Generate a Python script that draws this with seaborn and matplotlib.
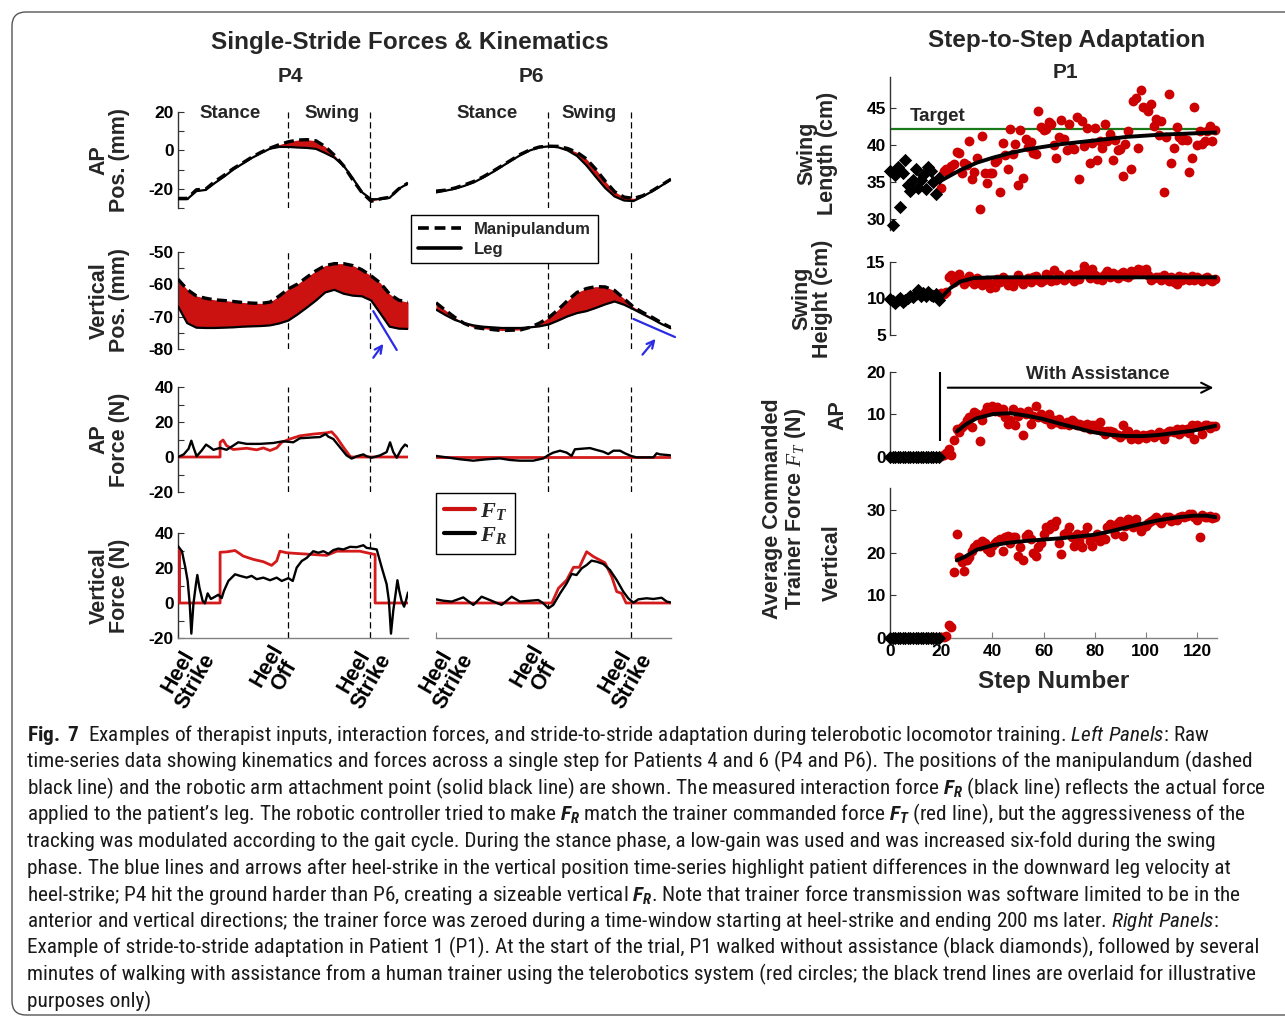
import matplotlib
matplotlib.use("Agg")
import matplotlib.pyplot as plt
import seaborn as sns
from matplotlib import font_manager
from matplotlib.lines import Line2D
from matplotlib.patches import FancyBboxPatch
from matplotlib.transforms import IdentityTransform, ScaledTranslation

# ---------------------------
# Left panels: single stride, % of stride on x
# ---------------------------
pos_t = [0, 4, 8, 12, 16, 20, 24, 28, 32, 36, 40, 44, 48, 52, 56, 60, 64, 68, 72, 76, 80, 84, 88, 92, 96, 100]
P4_HEEL_OFF, P4_HEEL_STRIKE = 47.8, 83.5
P6_HEEL_OFF, P6_HEEL_STRIKE = 47.7, 83.0

p4_ap_leg = [-25.4, -25.4, -21.2, -20.6, -17.0, -13.7, -10.0, -7.0, -4.0, -1.5, 0.9, 1.8, 1.8, 1.5, 1.3, 0.8,
             -1.4, -3.8, -8.0, -14.5, -21.8, -25.4, -25.4, -24.7, -20.0, -17.2]
p4_ap_manip = [-25.0, -25.0, -20.5, -20.2, -16.2, -13.0, -9.5, -6.6, -3.6, -1.0, 1.2, 3.0, 4.5, 5.4, 5.6, 5.0,
               2.0, -2.5, -8.0, -15.3, -22.0, -26.5, -25.2, -24.4, -20.0, -17.0]
p4_vp_manip = [-58.4, -61.6, -63.6, -64.3, -64.8, -65.0, -65.3, -65.6, -65.8, -65.9, -65.5, -63.6, -61.4, -59.9,
               -57.8, -55.8, -54.2, -53.6, -53.6, -54.2, -55.5, -57.4, -59.6, -63.0, -64.9, -65.5]
p4_vp_leg = [-66.8, -72.0, -73.4, -73.5, -73.5, -73.4, -73.3, -73.1, -73.0, -72.9, -72.7, -72.1, -71.2, -69.3,
             -67.2, -65.0, -62.5, -61.7, -62.9, -63.5, -63.7, -65.0, -69.0, -73.1, -73.7, -73.8]

p6_ap_leg = [-21.9, -21.0, -20.0, -18.5, -16.7, -14.2, -11.4, -8.4, -5.3, -2.4, 0.0, 1.6, 2.1, 1.6, 0.0, -2.9,
             -7.8, -13.8, -19.6, -24.0, -26.1, -26.4, -24.0, -21.3, -18.3, -15.2]
p6_ap_manip = [-21.2, -20.7, -19.6, -18.0, -16.2, -13.8, -11.0, -8.0, -5.0, -2.0, 0.3, 1.8, 2.2, 2.1, 1.0, -1.0,
               -4.4, -9.8, -16.0, -21.5, -24.3, -25.0, -23.6, -21.0, -18.0, -15.0]
p6_vp_manip = [-65.7, -68.0, -70.2, -72.1, -73.3, -73.7, -74.0, -74.3, -74.2, -74.1, -73.3, -72.0, -70.3, -67.8,
               -65.0, -62.5, -61.3, -60.7, -60.8, -61.9, -64.4, -67.0, -68.7, -70.2, -71.9, -73.4]
p6_vp_leg = [-67.8, -69.5, -71.0, -72.0, -72.7, -73.1, -73.3, -73.5, -73.5, -73.5, -73.3, -73.0, -72.4, -71.2,
             -69.9, -68.9, -68.3, -67.3, -66.2, -65.3, -66.3, -67.7, -69.2, -70.7, -72.3, -73.6]

# forces: trainer commanded F_T (red) and measured F_R (black)
p4_apf_t_x = [0, 18.3, 18.3, 19.6, 21.1, 24.0, 29.9, 34.2, 37.1, 40.0, 42.9, 45.1, 48.7, 53.0, 58.8, 64.6, 66.8,
              69.0, 71.9, 74.8, 75.5, 100]
p4_apf_t = [0, 0, 8.4, 9.7, 6.5, 4.3, 5.0, 4.1, 5.2, 3.7, 5.2, 8.4, 10.3, 12.1, 13.1, 13.8, 14.4, 11.2, 5.6, 0.4, 0, 0]
p4_apf_r_x = [0, 2.5, 4.6, 5.8, 6.7, 8.1, 10.3, 12.2, 13.9, 15.4, 18.3, 21.1, 24.0, 26.2, 29.9, 35.7, 41.4, 45.8,
              50.1, 53.0, 58.8, 61.7, 64.2, 65.4, 67.5, 70.4, 73.3, 75.5, 77.7, 80.6, 82.0, 84.2, 87.8, 90.7, 92.2,
              93.6, 95.1, 97.2, 98.7, 100]
p4_apf_r = [0, 1.5, 4.7, 9.3, 5.6, 0.4, 3.7, 7.1, 5.6, 4.1, 5.2, 4.1, 6.5, 8.4, 7.5, 7.5, 8.0, 9.0, 8.4, 10.7,
            11.2, 11.4, 13.1, 11.6, 10.3, 5.6, 0.9, -0.9, 0.4, 1.5, 0.4, -0.4, 0.9, 2.8, 8.4, 2.8, -0.4, 4.7, 7.1, 6.0]

p4_vf_t_x = [0, 0.7, 0.7, 18.3, 18.3, 21.1, 24.8, 28.4, 32.8, 37.1, 40.7, 42.9, 44.3, 47.2, 51.6, 58.8, 64.6,
             69.0, 73.3, 79.1, 83.5, 85.7, 85.7, 100]
p4_vf_t = [30.6, 30.6, 0, 0, 29.0, 29.2, 30.0, 26.8, 24.9, 23.6, 21.5, 24.0, 29.6, 28.7, 28.3, 27.7, 27.2, 29.6,
           29.6, 29.6, 28.3, 27.7, 0, 0]
p4_vf_r_x = [0, 1.7, 3.2, 4.2, 5.1, 5.8, 6.7, 7.8, 8.4, 9.3, 10.7, 11.7, 12.9, 14.3, 16.1, 17.5, 19.0, 20.0, 21.9,
             24.8, 27.0, 29.9, 32.0, 34.2, 37.1, 40.0, 42.9, 45.1, 48.0, 49.9, 51.6, 53.8, 56.0, 58.8, 61.0, 63.2,
             65.4, 67.5, 69.7, 71.9, 74.8, 77.7, 80.6, 82.0, 84.2, 86.4, 88.6, 90.7, 91.7, 92.6, 93.6, 94.6, 95.4,
             96.2, 97.2, 98.3, 99.1, 100]
p4_vf_r = [32.5, 29.6, 20.2, 12.6, -0.6, -17.5, -0.6, 10.8, 16.0, 8.9, 1.3, -0.2, 5.5, 2.3, 3.6, 4.7, 2.8, 7.0,
           12.6, 16.4, 15.5, 14.5, 15.5, 13.6, 14.5, 13.0, 14.5, 12.6, 14.2, 12.6, 20.2, 24.0, 25.8, 29.6, 28.7,
           29.6, 28.1, 30.2, 31.1, 30.6, 32.1, 31.9, 33.0, 31.5, 31.1, 30.6, 20.2, 10.8, 1.3, -17.5, -4.3, 5.1,
           13.0, 7.0, 1.3, -2.1, 1.3, 6.0]

p6_apf_t_x = [0, 100]
p6_apf_t = [0, 0]
p6_apf_r_x = [0, 4.5, 10.2, 15.9, 21.6, 27.2, 31.5, 35.7, 41.4, 45.7, 47.8, 49.9, 52.8, 55.6, 57.7, 59.1, 62.7,
              65.5, 68.4, 71.2, 73.3, 75.5, 78.3, 80.4, 83.0, 85.4, 89.6, 92.5, 93.9, 95.3, 99.6]
p6_apf_r = [0.6, -0.2, -1.3, -2.1, -1.3, -0.8, -1.7, -2.1, -2.1, -0.8, 1.1, 2.5, 3.6, 2.5, 0.6, 4.4, 4.8, 5.1,
            4.0, 3.0, 1.7, 3.6, 3.6, 2.1, 0.6, -0.2, -0.2, -0.2, 2.1, 1.5, 1.0]

p6_vf_t_x = [0, 49.3, 52.1, 55.6, 58.5, 61.0, 64.1, 67.0, 71.9, 74.8, 76.9, 79.0, 80.9, 100]
p6_vf_t = [0, 0, 8.4, 13.1, 20.4, 20.4, 29.3, 26.5, 23.0, 15.0, 6.5, 5.5, 0, 0]
p6_vf_r_x = [0, 3.1, 6.7, 11.6, 15.9, 19.4, 22.9, 27.9, 32.2, 35.7, 40.0, 43.5, 45.7, 47.8, 49.9, 52.8, 55.6,
             57.7, 59.8, 62.0, 64.1, 66.2, 68.4, 71.2, 74.0, 76.9, 79.7, 81.8, 84.0, 86.1, 89.6, 92.5, 96.0, 98.2, 99.6]
p6_vf_r = [2.1, 1.3, 0.8, 3.2, -1.1, 3.6, 1.7, -1.1, 3.6, 0.8, 1.3, 1.7, -0.2, -3.0, -1.1, 5.5, 11.2, 16.6, 16.0,
           19.8, 21.7, 24.2, 23.6, 22.3, 18.9, 13.1, 6.5, 2.7, 0.2, 2.1, 2.7, 2.3, 3.0, 0.8, 0.4]

# ---------------------------
# Right panels: step-to-step adaptation of P1
# ---------------------------
pre_steps = list(range(0, 20))          # walking without assistance
ASSIST_START = 19.6
TARGET_LENGTH = 42.2

pre_len = [36.5, 29.2, 36.0, 37.0, 31.6, 36.2, 38.0, 34.6, 33.8, 35.3, 36.8, 34.2, 35.2, 36.0, 34.0, 37.0, 36.5,
           35.0, 33.4, 35.5]
pre_height = [9.9, 9.6, 9.4, 9.8, 10.0, 9.5, 9.8, 10.1, 10.3, 10.2, 10.6, 11.2, 10.3, 10.7, 10.4, 10.9, 10.5,
              10.3, 10.6, 9.8]
pre_ap = [0, 0, 0, 0, 0, 0, 0, 0, 0, 0, 0, 0, 0, 0, 0, 0, 0, 0, 0, 0]
pre_vert = [0, 0, 0, 0, 0, 0, 0, 0, 0, 0, 0, 0, 0, 0, 0, 0, 0, 0, 0, 0]

assist_len = [34.2, 36.5, 36.8, 36.8, 37.1, 37.4, 39.1, 38.9, 36.2, 37.6,
              37.3, 40.6, 35.4, 36.4, 38.2, 31.3, 41.2, 36.2, 34.8, 36.2,
              36.2, 37.7, 38.0, 33.7, 40.3, 38.6, 36.7, 42.2, 38.8, 40.1,
              34.6, 42.0, 35.5, 40.8, 39.7, 40.4, 38.9, 38.8, 44.6, 42.4,
              42.0, 42.1, 43.1, 42.9, 40.0, 38.2, 41.1, 43.4, 40.8, 39.3,
              42.9, 39.6, 39.5, 43.8, 35.4, 43.3, 39.8, 42.3, 37.6, 40.3,
              42.3, 38.0, 40.6, 39.6, 42.8, 40.6, 41.5, 38.0, 40.7, 39.3,
              39.5, 35.8, 40.1, 41.9, 36.8, 45.9, 46.3, 39.6, 47.5, 45.2,
              45.0, 44.6, 45.6, 42.6, 43.5, 41.3, 43.2, 33.7, 41.1, 46.9,
              37.5, 39.6, 42.4, 41.1, 40.7, 40.8, 40.7, 36.4, 38.2, 45.2,
              40.0, 41.9, 40.1, 40.6, 41.9, 42.6, 40.5, 42.0]
assist_height = [10.8, 10.6, 10.9, 13.0, 13.2, 12.2, 12.9, 13.4, 12.5, 12.0,
                 12.7, 13.1, 12.3, 12.0, 12.8, 12.5, 11.8, 12.2, 12.6, 11.5,
                 12.0, 11.6, 12.7, 12.3, 13.0, 12.6, 11.9, 12.2, 11.7, 12.6,
                 13.2, 12.4, 12.0, 12.5, 12.8, 12.3, 12.9, 13.1, 12.6, 12.2,
                 12.5, 13.3, 12.8, 12.4, 13.9, 12.6, 13.2, 12.9, 12.5, 12.8,
                 13.3, 13.0, 12.4, 13.2, 12.7, 13.5, 14.4, 13.6, 12.8, 14.0,
                 13.2, 12.7, 13.0, 12.6, 13.4, 13.8, 13.0, 13.5, 13.1, 12.8,
                 13.4, 13.6, 13.1, 12.9, 13.8, 13.3, 13.6, 14.0, 13.9, 13.7,
                 14.0, 13.2, 12.6, 12.8, 13.0, 12.9, 12.5, 13.2, 12.7, 12.4,
                 12.9, 12.3, 12.0, 13.1, 12.6, 13.0, 12.8, 12.6, 13.1, 12.5,
                 12.9, 12.7, 12.4, 12.8, 13.0, 12.6, 12.4, 12.7]
assist_ap = [0.2, 0.4, 0.8, 1.9, 0.4, 3.9, 6.5, 5.8, 7.0, 7.5,
             8.6, 9.3, 7.0, 10.5, 10.1, 3.7, 8.6, 10.5, 11.7, 11.3,
             12.1, 10.9, 11.7, 10.5, 11.3, 9.3, 7.8, 8.6, 11.3, 7.4,
             9.7, 10.5, 5.2, 10.1, 10.9, 7.8, 9.7, 12.1, 9.3, 10.1,
             9.1, 8.9, 10.1, 7.8, 8.6, 8.2, 8.9, 7.8, 7.8, 8.2,
             7.4, 8.6, 8.2, 7.4, 7.8, 7.4, 7.0, 7.8, 6.6, 7.4,
             7.5, 6.6, 8.2, 6.2, 5.4, 6.0, 6.2, 5.8, 5.4, 5.1,
             4.7, 7.4, 5.4, 6.2, 4.3, 4.7, 5.4, 4.3, 4.7, 5.1,
             4.4, 5.1, 5.4, 4.7, 5.2, 5.8, 5.2, 4.3, 5.7, 6.0,
             6.2, 5.8, 6.5, 5.4, 6.5, 6.2, 6.6, 5.7, 7.4, 4.3,
             7.4, 7.0, 5.4, 7.4, 7.5, 6.8, 7.2, 7.3]
assist_vert = [0.2, 0.2, 0.4, 3.0, 2.6, 15.4, 24.4, 19.0, 17.8, 15.8,
               18.2, 19.0, 20.5, 21.3, 22.1, 21.7, 22.8, 22.4, 20.9, 20.1,
               21.7, 22.4, 22.8, 23.2, 20.5, 23.6, 24.0, 22.4, 23.6, 23.8,
               19.3, 21.3, 18.2, 24.0, 24.4, 23.2, 19.9, 19.3, 21.3, 22.4,
               24.4, 26.0, 25.6, 26.7, 26.3, 27.5, 22.4, 19.7, 24.4, 24.8,
               26.0, 23.6, 21.7, 24.4, 22.8, 21.3, 24.4, 26.0, 22.8, 21.7,
               23.6, 24.4, 22.8, 23.6, 23.2, 26.0, 26.7, 25.6, 24.4, 27.1,
               27.5, 24.0, 26.3, 27.9, 27.5, 26.0, 27.9, 26.3, 25.2, 26.0,
               26.3, 26.9, 27.5, 27.9, 28.3, 27.5, 27.1, 27.9, 28.4, 28.3,
               27.5, 27.9, 27.7, 28.3, 28.7, 28.3, 28.7, 29.1, 29.2, 28.3,
               27.7, 23.8, 28.9, 28.3, 28.4, 28.6, 28.2, 28.5]

trend_len_x = [20.6, 27.4, 33.9, 40.4, 46.9, 53.5, 66.5, 79.5, 92.6, 105.6, 127.8]
trend_len = [35.3, 36.6, 37.6, 38.3, 38.9, 39.4, 40.1, 40.6, 41.1, 41.4, 41.7]
trend_height_x = [20.6, 23.5, 27.4, 32.6, 40.4, 53.5, 79.5, 127.8]
trend_height = [10.3, 11.4, 12.3, 12.8, 12.9, 12.9, 12.9, 12.9]
trend_ap_x = [26.1, 30.0, 33.9, 40.4, 46.9, 53.5, 60.0, 66.5, 73.0, 79.5, 86.0, 92.6, 99.1, 105.6, 112.1, 118.6, 127.8]
trend_ap = [6.0, 7.8, 9.1, 10.1, 10.3, 9.7, 8.9, 7.8, 6.8, 5.8, 5.2, 4.9, 4.9, 5.2, 5.7, 6.2, 7.4]
trend_vert_x = [26.1, 30.0, 33.9, 40.4, 46.9, 53.5, 60.0, 66.5, 73.0, 79.5, 86.0, 92.6, 99.1, 105.6, 112.1,
                118.6, 123.8, 127.8]
trend_vert = [18.2, 19.3, 20.7, 21.8, 22.4, 22.8, 23.1, 23.4, 23.8, 24.2, 25.0, 26.0, 26.9, 27.7, 28.3, 28.7,
              28.7, 28.3]

caption_lines = [
    r"$\mathbf{Fig.\ 7}$  Examples of therapist inputs, interaction forces, and stride-to-stride adaptation during telerobotic locomotor training. $\mathsf{Left\ Panels}$: Raw",
    r"time-series data showing kinematics and forces across a single step for Patients 4 and 6 (P4 and P6). The positions of the manipulandum (dashed",
    r"black line) and the robotic arm attachment point (solid black line) are shown. The measured interaction force $\mathtt{F_R}$ (black line) reflects the actual force",
    r"applied to the patient’s leg. The robotic controller tried to make $\mathtt{F_R}$ match the trainer commanded force $\mathtt{F_T}$ (red line), but the aggressiveness of the",
    r"tracking was modulated according to the gait cycle. During the stance phase, a low-gain was used and was increased six-fold during the swing",
    r"phase. The blue lines and arrows after heel-strike in the vertical position time-series highlight patient differences in the downward leg velocity at",
    r"heel-strike; P4 hit the ground harder than P6, creating a sizeable vertical $\mathtt{F_R}$. Note that trainer force transmission was software limited to be in the",
    r"anterior and vertical directions; the trainer force was zeroed during a time-window starting at heel-strike and ending 200 ms later. $\mathsf{Right\ Panels}$:",
    r"Example of stride-to-stride adaptation in Patient 1 (P1). At the start of the trial, P1 walked without assistance (black diamonds), followed by several",
    r"minutes of walking with assistance from a human trainer using the telerobotics system (red circles; the black trend lines are overlaid for illustrative",
    r"purposes only)",
]

# ---------------------------
# Style
# ---------------------------
W, H = 1285, 1021
RED = "#cc1111"
BLUE = "#2b2be6"
GREEN = "#1a7a1a"
SPINE = "#333333"

sns.set_style("ticks")

# pick a narrow face for the caption if one is installed
fonts = font_manager.fontManager.ttflist
names = {f.name for f in fonts}
CAP_FONT, CAP_STRETCH = "Liberation Sans", "normal"
for cand in ["Liberation Sans Narrow", "Roboto Condensed", "Open Sans Condensed", "Noto Sans Condensed"]:
    if cand in names:
        CAP_FONT = cand
        break
else:
    if any(f.name == "DejaVu Sans" and f.stretch == "condensed" for f in fonts):
        CAP_FONT, CAP_STRETCH = "DejaVu Sans", "condensed"


def pattern(family, style="normal", weight="normal"):
    return f"{family}:style={style}:weight={weight}:stretch={CAP_STRETCH if family == CAP_FONT else 'normal'}"


plt.rcParams.update({
    "font.family": ["Liberation Sans", "DejaVu Sans"],
    "font.weight": "bold",
    "axes.unicode_minus": False,
    "xtick.direction": "in",
    "ytick.direction": "in",
    "axes.edgecolor": SPINE,
    "axes.linewidth": 1.0,
    "mathtext.fontset": "custom",
    "mathtext.rm": pattern(CAP_FONT),
    "mathtext.bf": pattern(CAP_FONT, weight="bold"),
    "mathtext.sf": pattern(CAP_FONT, style="italic"),
    "mathtext.tt": pattern(CAP_FONT, style="italic", weight="bold"),
    "mathtext.it": pattern("Liberation Serif", style="italic"),
})
try:
    plt.rcParams["mathtext.bfit"] = pattern("Liberation Serif", style="italic", weight="bold")
    BFIT = r"\mathbfit"
except KeyError:
    BFIT = r"\mathbf"

fig = plt.figure(figsize=(W / 100, H / 100), dpi=100)


def px_axes(x0, x1, y0, y1):
    return fig.add_axes([x0 / W, 1 - y1 / H, (x1 - x0) / W, (y1 - y0) / H])


def draw_line(ax, x, y, **kw):
    sns.lineplot(x=x, y=y, ax=ax, sort=False, estimator=None, legend=False, **kw)


# page frame
fig.add_artist(FancyBboxPatch((12, 6), 1330, 1003, boxstyle="round,pad=0,rounding_size=14",
                              transform=IdentityTransform(), fill=False, edgecolor="#555555", lw=1.0))

# ---------------------------
# Left panels
# ---------------------------
LEFT_COLS = {"P4": (178, 408), "P6": (436, 671)}
LEFT_ROWS = [(112, 208), (252, 349), (387, 492), (533, 638)]
L_YLIM = [(-30, 20), (-80, -50), (-20, 40), (-20, 40)]
L_MAJOR = [[-20, 0, 20], [-80, -70, -60, -50], [-20, 0, 20, 40], [-20, 0, 20, 40]]
L_MINOR = [[-30, -10, 10], [-75, -65, -55], [-10, 10, 30], [-10, 10, 30]]
L_YLABEL = ["AP\nPos. (mm)", "Vertical\nPos. (mm)", "AP\nForce (N)", "Vertical\nForce (N)"]
TICK_SHIFT = [9, -12, -7]

panels = {
    "P4": dict(ho=P4_HEEL_OFF, hs=P4_HEEL_STRIKE,
               pos=[(p4_ap_manip, p4_ap_leg), (p4_vp_manip, p4_vp_leg)],
               force=[(p4_apf_t_x, p4_apf_t, p4_apf_r_x, p4_apf_r),
                      (p4_vf_t_x, p4_vf_t, p4_vf_r_x, p4_vf_r)]),
    "P6": dict(ho=P6_HEEL_OFF, hs=P6_HEEL_STRIKE,
               pos=[(p6_ap_manip, p6_ap_leg), (p6_vp_manip, p6_vp_leg)],
               force=[(p6_apf_t_x, p6_apf_t, p6_apf_r_x, p6_apf_r),
                      (p6_vf_t_x, p6_vf_t, p6_vf_r_x, p6_vf_r)]),
}

left_axes = {}
for name, (x0, x1) in LEFT_COLS.items():
    pan = panels[name]
    for row, (y0, y1) in enumerate(LEFT_ROWS):
        ax = px_axes(x0, x1, y0, y1)
        ax.set_facecolor("none")
        ax.set_xlim(0, 100)
        ax.set_ylim(*L_YLIM[row])
        show_y = name == "P4"
        sns.despine(ax=ax, left=not show_y, bottom=(row != 3))
        ax.spines["bottom"].set_color("#808080")
        for xv in (pan["ho"], pan["hs"]):
            ax.axvline(xv, color="k", lw=0.9, ls=(0, (5, 3)), zorder=1)

        if row < 2:
            manip, leg = pan["pos"][row]
            ax.fill_between(pos_t, manip, leg, color=RED, lw=0, zorder=2)
            draw_line(ax, pos_t, leg, color="k", lw=1.6, zorder=3)
            draw_line(ax, pos_t, manip, color="k", lw=2.4, linestyle=(0, (3, 1.6)), zorder=4)
        else:
            tx, ty, rx, ry = pan["force"][row - 2]
            draw_line(ax, tx, ty, color="#d41a1a", lw=2.0, zorder=3)
            draw_line(ax, rx, ry, color="k", lw=1.7, zorder=4)

        if show_y:
            ax.set_yticks(L_MAJOR[row], [str(v) for v in L_MAJOR[row]], fontsize=12.5, fontweight="bold")
            ax.set_yticks(L_MINOR[row], minor=True)
            ax.tick_params(axis="y", which="both", length=4, width=0.8, pad=3, colors=SPINE,
                           labelcolor="black")
            ax.set_ylabel(L_YLABEL[row], fontsize=15.5, fontweight="bold", linespacing=0.95)
            ax.yaxis.set_label_coords(-0.209, 0.5)
        else:
            ax.tick_params(axis="y", which="both", left=False, labelleft=False)

        if row == 3:
            ax.set_xticks([0, pan["ho"], pan["hs"]],
                          ["Heel\nStrike", "Heel\nOff", "Heel\nStrike"],
                          rotation=60, ha="center", va="top", fontsize=15.5, fontweight="bold",
                          linespacing=0.9)
            ax.tick_params(axis="x", length=4, width=0.8, pad=2, colors="#808080", labelcolor="black")
            for lab, dx in zip(ax.get_xticklabels(), TICK_SHIFT):
                lab.set_transform(lab.get_transform() + ScaledTranslation(dx / 100, 0, fig.dpi_scale_trans))
        else:
            ax.tick_params(axis="x", bottom=False, labelbottom=False)
        left_axes[(name, row)] = ax

# heel-strike velocity cues
for name, line_pts, arrow_pts in [("P4", ([84.9, 95.1], [-68.3, -80.3]), ((84.2, -83.4), (90.0, -77.7))),
                                  ("P6", ([84.0, 101.7], [-70.7, -76.3]), ((87.1, -82.4), (94.2, -76.2)))]:
    ax = left_axes[(name, 1)]
    ax.plot(*line_pts, color=BLUE, lw=1.6, clip_on=False, zorder=5)
    ax.annotate("", xy=arrow_pts[1], xytext=arrow_pts[0], annotation_clip=False,
                arrowprops=dict(arrowstyle="->", color=BLUE, lw=1.6, mutation_scale=13))

fig.text(410 / W, 1 - 43 / H, "Single-Stride Forces & Kinematics", ha="center", va="center", fontsize=17.5)
fig.text(290 / W, 1 - 76 / H, "P4", ha="center", va="center", fontsize=15)
fig.text(531 / W, 1 - 76 / H, "P6", ha="center", va="center", fontsize=15)
for xp, label in [(230, "Stance"), (332, "Swing"), (487, "Stance"), (589, "Swing")]:
    fig.text(xp / W, 1 - 113 / H, label, ha="center", va="center", fontsize=13.5)

leg1 = fig.legend(handles=[Line2D([], [], color="k", lw=2.6, ls=(0, (3, 1.6))),
                           Line2D([], [], color="k", lw=2.6)],
                  labels=["Manipulandum", "Leg"], loc="upper left",
                  bbox_to_anchor=(411 / W, 1 - 215 / H), frameon=True, fancybox=False,
                  edgecolor="black", framealpha=1, prop={"weight": "bold", "size": 12},
                  handlelength=2.6, handletextpad=0.8, borderpad=0.4, labelspacing=0.3,
                  borderaxespad=0)
leg1.get_frame().set_linewidth(1.0)

leg2 = fig.legend(handles=[Line2D([], [], color=RED, lw=3), Line2D([], [], color="k", lw=3)],
                  labels=[rf"${BFIT}{{F_T}}$", rf"${BFIT}{{F_R}}$"], loc="upper left",
                  bbox_to_anchor=(436 / W, 1 - 493 / H), frameon=True, fancybox=False,
                  edgecolor="black", framealpha=1, prop={"size": 16},
                  handlelength=1.4, handletextpad=0.25, borderpad=0.35, labelspacing=0.15,
                  borderaxespad=0)
leg2.get_frame().set_linewidth(1.0)

# ---------------------------
# Right panels
# ---------------------------
RIGHT_X = (890, 1217)
RIGHT_ROWS = [(77, 230), (262, 335), (372, 459), (488, 638)]
R_YLIM = [(28.5, 49.2), (5, 15), (-0.5, 20), (0, 35.2)]
R_TICKS = [[30, 35, 40, 45], [5, 10, 15], [0, 10, 20], [0, 10, 20, 30]]
R_YLABEL = ["Swing\nLength (cm)", "Swing\nHeight (cm)", "AP", "Vertical"]
R_LABEL_X = [-0.159, -0.174, -0.128, -0.144]
series = [(pre_len, assist_len, trend_len_x, trend_len),
          (pre_height, assist_height, trend_height_x, trend_height),
          (pre_ap, assist_ap, trend_ap_x, trend_ap),
          (pre_vert, assist_vert, trend_vert_x, trend_vert)]

right_axes = []
for row, (y0, y1) in enumerate(RIGHT_ROWS):
    ax = px_axes(RIGHT_X[0], RIGHT_X[1], y0, y1)
    ax.set_facecolor("none")
    ax.set_xlim(0, 127.8)
    ax.set_ylim(*R_YLIM[row])
    sns.despine(ax=ax, bottom=(row != 3))
    ax.spines["bottom"].set_color("#808080")
    pre, assist, tr_x, tr_y = series[row]
    assist_steps = list(range(20, 20 + len(assist)))
    sns.scatterplot(x=assist_steps, y=assist, ax=ax, color="#cc0000", s=50, linewidth=0,
                    legend=False, clip_on=False, zorder=3)
    sns.scatterplot(x=pre_steps, y=pre, ax=ax, color="black", marker="D", s=46, linewidth=0,
                    legend=False, clip_on=False, zorder=3)
    draw_line(ax, tr_x, tr_y, color="black", lw=2.8, zorder=4)

    ax.set_yticks(R_TICKS[row], [str(v) for v in R_TICKS[row]], fontsize=12.5, fontweight="bold")
    ax.tick_params(axis="y", length=4, width=0.8, pad=3, colors=SPINE, labelcolor="black")
    ax.set_ylabel(R_YLABEL[row], fontsize=15.5, fontweight="bold", linespacing=0.95)
    ax.yaxis.set_label_coords(R_LABEL_X[row], 0.5)
    if row == 3:
        ax.set_xticks([0, 20, 40, 60, 80, 100, 120], ["0", "20", "40", "60", "80", "100", "120"],
                      fontsize=12.5, fontweight="bold")
        ax.tick_params(axis="x", length=4, width=0.8, pad=4, colors="#808080", labelcolor="black")
        ax.set_xlabel("Step Number", fontsize=17.5, fontweight="bold", va="top")
        ax.xaxis.set_label_coords(0.5, -0.215)
    else:
        ax.tick_params(axis="x", bottom=False, labelbottom=False)
    right_axes.append(ax)

ax = right_axes[0]
ax.axhline(TARGET_LENGTH, color=GREEN, lw=1.6, zorder=2)
ax.text(18.8, 43.8, "Target", ha="center", va="center", fontsize=13.5)

ax = right_axes[2]
ax.vlines(ASSIST_START, 3.7, 20, color="black", lw=1.5)
ax.annotate("", xy=(127.5, 16.3), xytext=(21.5, 16.3), annotation_clip=False,
            arrowprops=dict(arrowstyle="->", color="black", lw=1.5, mutation_scale=18))
ax.text(81.4, 19.5, "With Assistance", ha="center", va="center", fontsize=13.5)

fig.text(1067 / W, 1 - 41 / H, "Step-to-Step Adaptation", ha="center", va="center", fontsize=17.5)
fig.text(1065 / W, 1 - 72 / H, "P1", ha="center", va="center", fontsize=15)
fig.text(785 / W, 1 - 509 / H, "Average Commanded\nTrainer Force $\\mathit{F_T}$ (N)", rotation=90,
         ha="center", va="center", fontsize=15.5, fontweight="bold", linespacing=0.95)

# ---------------------------
# Caption
# ---------------------------
cap_texts = []
for i, line in enumerate(caption_lines):
    cap_texts.append(fig.text(27 / W, 1 - (741 + i * 26.6) / H, line, ha="left", va="baseline",
                              family=CAP_FONT, stretch=CAP_STRETCH, fontweight="normal",
                              fontsize=14, color="#1a1a1a"))

fig.canvas.draw()
renderer = fig.canvas.get_renderer()
scale = 1244 / cap_texts[2].get_window_extent(renderer).width
for t in cap_texts:
    t.set_fontsize(t.get_fontsize() * scale)

fig.savefig("out.png", dpi=100)
